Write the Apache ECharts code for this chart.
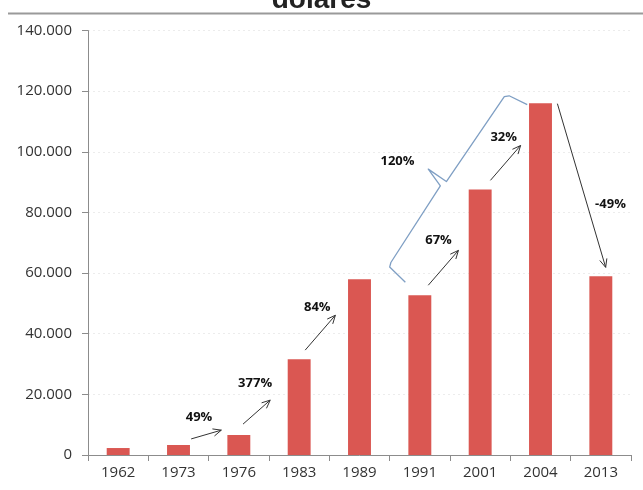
<!DOCTYPE html>
<html><head><meta charset="utf-8">
<script src="https://cdn.jsdelivr.net/npm/echarts@6/dist/echarts.min.js"></script>
<style>html,body{margin:0;padding:0;background:#fff}#c{width:643px;height:490px}</style>
</head><body><div id="c"></div>
<script>
const years = ['1962','1973','1976','1983','1989','1991','2001','2004','2013'];
const values = [2300, 3300, 6600, 31600, 58000, 52700, 87600, 116000, 59000];
const yTicks = [0, 20000, 40000, 60000, 80000, 100000, 120000, 140000];
const titleText = 'dolares';
const arrowLabels = ['49%', '377%', '84%', '67%', '32%', '-49%'];
const arrowStart = [[1.21, 5300], [2.07, 10200], [3.10, 34600], [5.14, 56000], [6.17, 90600], [7.28, 115900]];
const arrowEnd = [[1.71, 8200], [2.52, 18100], [3.60, 46100], [5.64, 67500], [6.67, 102100], [8.08, 61900]];
const arrowLabelPos = [[1.34, 12500], [2.27, 23700], [3.30, 48700], [5.31, 70800], [6.39, 104700], [8.16, 82700]];
const braceLabel = '120%';
const braceLabelPos = [4.63, 96800];
const bracePoints = [[4.76, 57000], [4.50, 62000], [4.52, 63500], [5.34, 88800], [5.14, 94300], [5.44, 90200], [6.40, 118200], [6.48, 118500], [6.78, 115600]];

const fmt = v => String(v).replace(/\B(?=(\d{3})+(?!\d))/g, '.');
const chart = echarts.init(document.getElementById('c'));
chart.setOption({
  animation: false,
  backgroundColor: '#fff',
  grid: { left: 88, right: 12, top: 30.6, bottom: 35 },
  xAxis: {
    type: 'category', data: years,
    axisLine: { lineStyle: { color: '#8c8c8c' } },
    axisTick: { show: true, length: 6, lineStyle: { color: '#8c8c8c' } },
    axisLabel: { color: '#333', fontSize: 15, fontFamily: 'Open Sans', margin: 10 }
  },
  yAxis: {
    type: 'value', min: yTicks[0], max: yTicks[yTicks.length - 1], interval: yTicks[1] - yTicks[0],
    axisLine: { show: true, lineStyle: { color: '#8c8c8c' } },
    axisTick: { show: true, length: 6, lineStyle: { color: '#8c8c8c' } },
    axisLabel: { color: '#333', fontSize: 15, fontFamily: 'Open Sans', margin: 16, formatter: fmt },
    splitLine: { show: true, lineStyle: { color: '#ececec', type: [2, 3] } }
  },
  series: [{
    type: 'bar', data: values, barWidth: '38%',
    itemStyle: { color: '#DA5752' }
  }]
});

function toPx(p) {
  const a = chart.convertToPixel({ seriesIndex: 0 }, [0, 0]);
  const b = chart.convertToPixel({ seriesIndex: 0 }, [1, 20000]);
  return [a[0] + (b[0] - a[0]) * p[0], a[1] + (b[1] - a[1]) * p[1] / 20000];
}
const elements = [];
elements.push({ type: 'text', left: 'center', top: -14, style: { text: titleText, font: 'bold 28px "Liberation Sans"', fill: '#222' }, z: 10 });
elements.push({ type: 'line', shape: { x1: 8, y1: 13.5, x2: 643, y2: 13.5 }, style: { stroke: '#9a9a9a', lineWidth: 2 }, z: 10 });
for (let k = 0; k < arrowLabels.length; k++) {
  const s = toPx(arrowStart[k]), e = toPx(arrowEnd[k]), l = toPx(arrowLabelPos[k]);
  const ang = Math.atan2(e[1] - s[1], e[0] - s[0]);
  const h = 9, w = 0.42;
  const p1 = [e[0] - h * Math.cos(ang - w), e[1] - h * Math.sin(ang - w)];
  const p2 = [e[0] - h * Math.cos(ang + w), e[1] - h * Math.sin(ang + w)];
  elements.push({ type: 'line', shape: { x1: s[0], y1: s[1], x2: e[0], y2: e[1] }, style: { stroke: '#333', lineWidth: 1 }, z: 10 });
  elements.push({ type: 'polyline', shape: { points: [p1, e, p2] }, style: { stroke: '#333', lineWidth: 1, fill: null }, z: 10 });
  elements.push({ type: 'text', x: l[0], y: l[1], style: { text: arrowLabels[k], font: 'bold 13px "Open Sans"', fill: '#111', align: 'center', verticalAlign: 'middle' }, z: 10 });
}
const bl = toPx(braceLabelPos);
elements.push({ type: 'text', x: bl[0], y: bl[1], style: { text: braceLabel, font: 'bold 13px "Open Sans"', fill: '#111', align: 'center', verticalAlign: 'middle' }, z: 10 });
elements.push({ type: 'polyline', shape: { points: bracePoints.map(toPx) }, style: { stroke: '#7f9fc4', lineWidth: 1.3, fill: null, lineJoin: 'round' }, z: 10 });
chart.setOption({ graphic: { elements } });
</script></body></html>
